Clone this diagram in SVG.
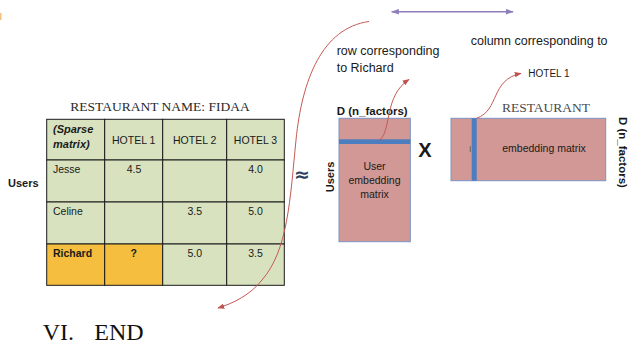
<svg xmlns="http://www.w3.org/2000/svg" width="629" height="350" viewBox="0 0 629 350">
<defs>
<style>
.s{font-family:"Liberation Sans",Arial,sans-serif;fill:#1a1a1a}
.serif{font-family:"Liberation Serif","Times New Roman",serif}
.cell{fill:#d8e2bf;stroke:#1a1a1a;stroke-width:1}
.hi{fill:#f5be3e;stroke:#1a1a1a;stroke-width:1}
.mat{fill:#d19895;stroke:#7b93c3;stroke-width:1}
.band{fill:#4c7dbe}
.red{fill:none;stroke:#c55a55;stroke-width:1}
.t{font-size:10.5px}
.c{text-anchor:middle}
.b{font-weight:bold}
</style>
<marker id="ah" viewBox="0 0 10 10" refX="9" refY="5" markerWidth="7" markerHeight="7" orient="auto" markerUnits="userSpaceOnUse">
<path d="M0,1 L10,5 L0,9 z" fill="#c0504d"/>
</marker>
<marker id="pa" viewBox="0 0 10 10" refX="9" refY="5" markerWidth="8" markerHeight="8" orient="auto-start-reverse" markerUnits="userSpaceOnUse">
<path d="M0,1.5 L10,5 L0,8.5 z" fill="#8d7dbb"/>
</marker>
</defs>
<rect width="629" height="350" fill="#ffffff"/>
<rect x="0" y="13" width="1.5" height="7" fill="#f4c27e"/>

<g id="table">
<text class="serif" x="160" y="111" font-size="13.5" text-anchor="middle" fill="#2a2a2a">RESTAURANT NAME: FIDAA</text>
<text class="s b" x="8" y="187" font-size="11">Users</text>
<rect class="cell" x="46.7" y="119.3" width="58" height="40.7"/>
<rect class="cell" x="104.7" y="119.3" width="58" height="40.7"/>
<rect class="cell" x="162.7" y="119.3" width="64" height="40.7"/>
<rect class="cell" x="226.7" y="119.3" width="57.6" height="40.7"/>
<rect class="cell" x="46.7" y="160" width="58" height="42"/>
<rect class="cell" x="104.7" y="160" width="58" height="42"/>
<rect class="cell" x="162.7" y="160" width="64" height="42"/>
<rect class="cell" x="226.7" y="160" width="57.6" height="42"/>
<rect class="cell" x="46.7" y="202" width="58" height="42"/>
<rect class="cell" x="104.7" y="202" width="58" height="42"/>
<rect class="cell" x="162.7" y="202" width="64" height="42"/>
<rect class="cell" x="226.7" y="202" width="57.6" height="42"/>
<rect class="hi" x="46.7" y="244" width="58" height="41.3"/>
<rect class="hi" x="104.7" y="244" width="58" height="41.3"/>
<rect class="cell" x="162.7" y="244" width="64" height="41.3"/>
<rect class="cell" x="226.7" y="244" width="57.6" height="41.3"/>
<text class="s b" x="53" y="133" font-size="11" font-style="italic">(Sparse</text>
<text class="s b" x="53" y="148" font-size="11" font-style="italic">matrix)</text>
<text class="s t c" x="133.7" y="143.5">HOTEL 1</text>
<text class="s t c" x="194.7" y="143.5">HOTEL 2</text>
<text class="s t c" x="255.5" y="143.5">HOTEL 3</text>
<text class="s t" x="53" y="173">Jesse</text>
<text class="s t c" x="134" y="173">4.5</text>
<text class="s t c" x="255.5" y="173">4.0</text>
<text class="s t" x="53" y="215">Celine</text>
<text class="s t c" x="194.7" y="215">3.5</text>
<text class="s t c" x="255.5" y="215">5.0</text>
<text class="s t b" x="53" y="257">Richard</text>
<text class="s t b c" x="133.7" y="257">?</text>
<text class="s t c" x="194.7" y="257">5.0</text>
<text class="s t c" x="255.5" y="257">3.5</text>
</g>

<g id="approx">
<text x="302" y="181" font-family="DejaVu Sans,sans-serif" font-size="19" text-anchor="middle" fill="#2c3e5e" font-weight="bold">≈</text>
</g>

<g id="user-matrix">
<text class="s b" x="336.7" y="115" font-size="11.5">D (n_factors)</text>
<text class="s b c" font-size="11" transform="translate(334,177) rotate(-90)">Users</text>
<rect class="mat" x="339" y="118.3" width="71.3" height="123.4"/>
<rect class="band" x="339" y="139.3" width="71.3" height="4.7"/>
<text class="s t c" x="374.5" y="169.5">User</text>
<text class="s t c" x="374.5" y="183.5">embedding</text>
<text class="s t c" x="374.5" y="197.7">matrix</text>
</g>

<g id="times">
<text class="s b c" x="425" y="157" font-size="20">X</text>
</g>

<g id="restaurant-matrix">
<text class="serif" x="546" y="112" font-size="13.5" text-anchor="middle" fill="#4a4a4a">RESTAURANT</text>
<rect class="mat" x="451" y="118.3" width="154.7" height="62.4"/>
<rect class="band" x="471.7" y="118.3" width="5" height="62.4"/>
<line x1="470.3" y1="146" x2="470.3" y2="152" stroke="#5a5a5a" stroke-width="0.8"/>
<text class="s t c" x="544" y="152">embedding matrix</text>
<text class="s b" font-size="11.5" transform="translate(618.5,117) rotate(90)">D (n_factors)</text>
</g>

<g id="labels">
<text class="s" x="336.7" y="55" font-size="12.5">row corresponding</text>
<text class="s" x="336.7" y="71.5" font-size="12.5">to Richard</text>
<text class="s" x="470.7" y="44.5" font-size="12.5">column corresponding to</text>
<text class="s" x="528.3" y="76.5" font-size="10">HOTEL 1</text>
<text class="serif" x="42.7" y="340" font-size="24" fill="#111">VI.</text>
<text class="serif" x="94.3" y="340" font-size="24" fill="#111">END</text>
</g>

<g id="connectors">
<line x1="391.7" y1="11.7" x2="513" y2="11.7" stroke="#8d7dbb" stroke-width="1.5" marker-start="url(#pa)" marker-end="url(#pa)"/>
<path class="red" d="M369,21.5 C322,28 302,80 296,140 C290,200 288,250 262,280 C250,295 234,303 218,308" marker-end="url(#ah)"/>
<path class="red" d="M380,140 C392,128 384,96 409,79.5" marker-end="url(#ah)"/>
<path class="red" d="M476.5,118.3 C500,110 490,80 521,73.3" marker-end="url(#ah)"/>
</g>
</svg>
